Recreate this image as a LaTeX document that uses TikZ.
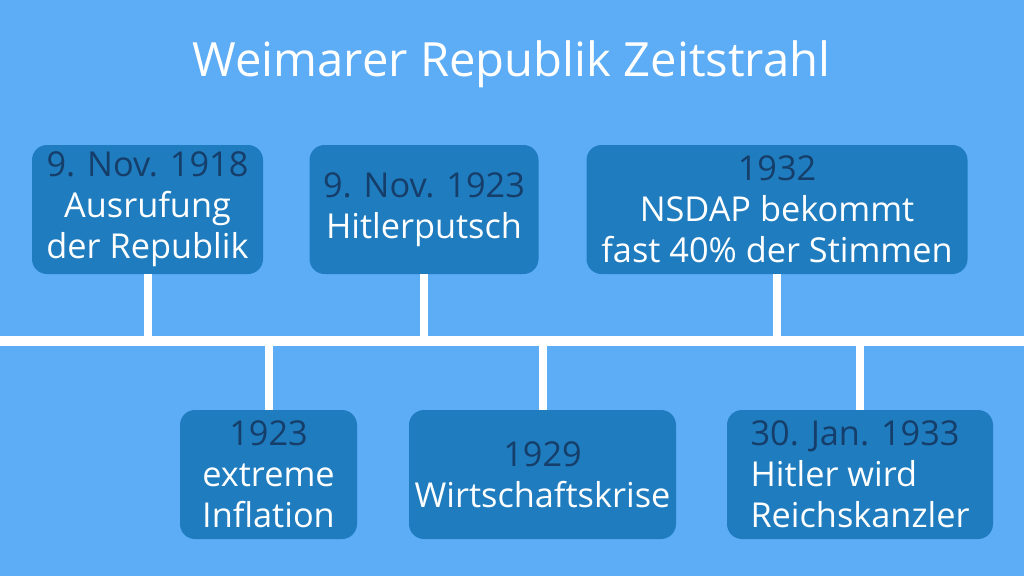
\documentclass[tikz,border=0pt]{standalone}
\usepackage{fontspec}
\setmainfont{Open Sans}
\definecolor{bg}{RGB}{92,172,246}
\definecolor{boxfill}{RGB}{31,124,190}
\definecolor{datecol}{RGB}{22,62,106}
\tikzset{
  evbox/.style={fill=boxfill, rounded corners=15pt, inner sep=0pt, align=center, text=white,
    font=\fontsize{34.3}{41}\selectfont},
  stem/.style={draw=white, line width=8pt},
  axis/.style={draw=white, line width=10pt},
}
\newcommand{\dt}[1]{\textcolor{datecol}{#1}}
\begin{document}
\begin{tikzpicture}[x=1pt,y=-1pt]
\fill[bg] (0,0) rectangle (1024,576);
\useasboundingbox (0,0) rectangle (1024,576);
\node[text=white, font=\fontsize{47.2}{52}\selectfont] (title) at (511.5,64) {Weimarer Republik Zeitstrahl};
\coordinate (L) at (0,341);
\coordinate (R) at (1024,341);
% top boxes
\node[evbox, minimum width=231pt, minimum height=129pt] (b1) at (147.5,209.5) {\dt{9. Nov. 1918}\\Ausrufung\\der Republik};
\node[evbox, minimum width=229pt, minimum height=129pt] (b2) at (424,209.5) {\dt{9. Nov. 1923}\\Hitlerputsch};
\node[evbox, minimum width=381pt, minimum height=129pt] (b3) at (777,209.5) {\dt{1932}\\NSDAP bekommt\\fast 40\% der Stimmen};
% bottom boxes
\node[evbox, minimum width=177pt, minimum height=129pt] (b4) at (268.5,474.5) {\dt{1923}\\extreme\\Inflation};
\node[evbox, minimum width=267pt, minimum height=129pt] (b5) at (542.5,474.5) {\dt{1929}\\Wirtschaftskrise};
\node[evbox, align=left, minimum width=266pt, minimum height=129pt] (b6) at (860,474.5) {\dt{30. Jan. 1933}\\Hitler wird\\Reichskanzler};
% stems
\draw[stem] (b1.south) -- (b1.south |- L);
\draw[stem] (b2.south) -- (b2.south |- L);
\draw[stem] (b3.south) -- (b3.south |- L);
\draw[stem] (b4.north) -- (b4.north |- L);
\draw[stem] (b5.north) -- (b5.north |- L);
\draw[stem] (b6.north) -- (b6.north |- L);
\draw[axis] (L) -- (R);
\end{tikzpicture}
\end{document}
